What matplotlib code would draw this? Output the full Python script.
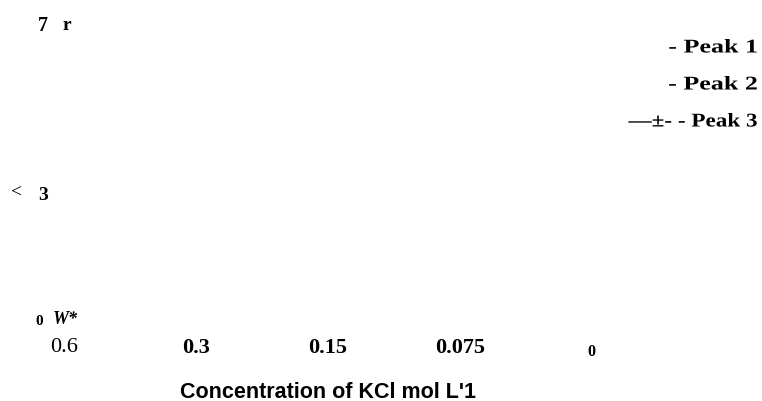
import matplotlib
matplotlib.use("Agg")
import matplotlib.pyplot as plt
from matplotlib.patheffects import AbstractPathEffect
from matplotlib.transforms import Affine2D, ScaledTranslation

# chart text (only the labels survived in the source figure)
kcl_conc = ["0.6", "0.3", "0.15", "0.075", "0"]
y_ticks = [0, 3, 7]
y_labels = ["0", "3", "7"]
peak_labels = ["Peak 1", "Peak 2", "Peak 3"]
peak_markers = ["-", "-", "\u2014\u00b1- -"]
x_title = "Concentration of KCl mol L'1"

W, H = 762, 402
fig = plt.figure(figsize=(W / 100, H / 100), dpi=100)


def fx(px):
    return px / W


def fy(py):
    return 1 - py / H


class WideText(AbstractPathEffect):
    # stretch the glyphs sideways, keeping the right edge where it was
    def __init__(self, sx):
        super().__init__()
        self.sx = sx

    def draw_path(self, renderer, gc, tpath, affine, rgbFace=None):
        x1 = tpath.get_extents().x1
        stretch = Affine2D().translate(-x1, 0).scale(self.sx, 1).translate(x1, 0)
        renderer.draw_path(gc, tpath, stretch + affine, rgbFace)


serif = "Liberation Serif"
ax = fig.add_axes([fx(52), fy(320), fx(720) - fx(52), fy(11) - fy(320)])
ax.set_xlim(-0.095, 4.975)
ax.set_ylim(0, 7.3)
for s in ax.spines.values():
    s.set_visible(False)

ax.set_xticks(range(len(kcl_conc)), kcl_conc)
ax.set_yticks(y_ticks, y_labels)
ax.tick_params(axis="x", length=0, pad=13)
ax.tick_params(axis="y", length=0, pad=3)

xlbls = ax.get_xticklabels()
for i, lbl in enumerate(xlbls):
    lbl.set_family(serif)
    lbl.set_fontsize(16)
    lbl.set_fontweight("bold")
xlbls[0].set_fontweight("normal")
xlbls[-1].set_fontsize(11.5)
xlbls[-1].set_transform(xlbls[-1].get_transform()
                        + ScaledTranslation(0, -0.06, fig.dpi_scale_trans))

ylbls = ax.get_yticklabels()
for lbl, size in zip(ylbls, [11, 14, 14.5]):
    lbl.set_family(serif)
    lbl.set_fontsize(size)
    lbl.set_fontweight("bold")
ylbls[0].set_transform(ylbls[0].get_transform()
                       + ScaledTranslation(-0.05, 0, fig.dpi_scale_trans))

ax.set_xlabel(x_title, family="Liberation Sans", fontsize=15.5, fontweight="bold")
ax.xaxis.set_label_coords((328.5 - 52) / 668, (320 - 393) / 309)
ax.xaxis.label.set_va("center")

# stray marks left over around the y axis
fig.text(fx(63), fy(25), "r", family=serif, fontsize=14, fontweight="bold", va="center")
fig.text(fx(11), fy(193), "<", family=serif, fontsize=14, va="center")
fig.text(fx(53), fy(320), "W*", family=serif, fontsize=13, fontweight="bold",
         style="italic", va="center")

# legend entries (line samples lost, only text left)
for i, (mk, name, sx) in enumerate(zip(peak_markers, peak_labels, [1.34, 1.34, 1.19])):
    fig.text(fx(758), fy(49 + 37 * i), mk + " " + name, family=serif, fontsize=14,
             fontweight="bold", ha="right", va="center", path_effects=[WideText(sx)])

fig.savefig("out.png", dpi=100)
